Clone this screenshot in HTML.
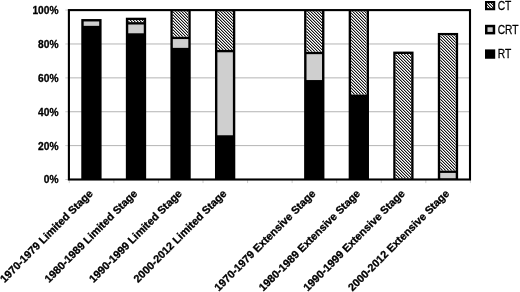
<!DOCTYPE html>
<html lang="en"><head><meta charset="utf-8"><title>Treatment by decade and stage</title>
<style>
html,body{margin:0;padding:0;background:#fff;}
body{width:520px;height:292px;overflow:hidden;}
svg{display:block;}
text{font-family:"Liberation Sans",sans-serif;fill:#000;}
.ax{font-weight:bold;font-size:10.85px;stroke:#000;stroke-width:0.3px;}
.ay{font-weight:bold;font-size:10.2px;stroke:#000;stroke-width:0.3px;}
.lg{font-size:12.2px;stroke:#000;stroke-width:0.25px;}
</style></head><body>
<svg width="520" height="292" viewBox="0 0 520 292">
<rect width="520" height="292" fill="#fff"/>
<line x1="68.9" x2="470.0" y1="145.62" y2="145.62" stroke="#b4b4b4" stroke-width="1"/>
<line x1="68.9" x2="470.0" y1="111.74" y2="111.74" stroke="#b4b4b4" stroke-width="1"/>
<line x1="68.9" x2="470.0" y1="77.86" y2="77.86" stroke="#b4b4b4" stroke-width="1"/>
<line x1="68.9" x2="470.0" y1="43.98" y2="43.98" stroke="#b4b4b4" stroke-width="1"/>
<line x1="65.30" x2="68.9" y1="179.50" y2="179.50" stroke="#c8c8c8" stroke-width="0.9"/>
<line x1="65.30" x2="68.9" y1="145.62" y2="145.62" stroke="#c8c8c8" stroke-width="0.9"/>
<line x1="65.30" x2="68.9" y1="111.74" y2="111.74" stroke="#c8c8c8" stroke-width="0.9"/>
<line x1="65.30" x2="68.9" y1="77.86" y2="77.86" stroke="#c8c8c8" stroke-width="0.9"/>
<line x1="65.30" x2="68.9" y1="43.98" y2="43.98" stroke="#c8c8c8" stroke-width="0.9"/>
<line x1="65.30" x2="68.9" y1="10.10" y2="10.10" stroke="#c8c8c8" stroke-width="0.9"/>
<line x1="69.30" x2="69.30" y1="179.5" y2="183.10" stroke="#c8c8c8" stroke-width="0.9"/>
<line x1="113.87" x2="113.87" y1="179.5" y2="183.10" stroke="#c8c8c8" stroke-width="0.9"/>
<line x1="158.43" x2="158.43" y1="179.5" y2="183.10" stroke="#c8c8c8" stroke-width="0.9"/>
<line x1="203.00" x2="203.00" y1="179.5" y2="183.10" stroke="#c8c8c8" stroke-width="0.9"/>
<line x1="247.57" x2="247.57" y1="179.5" y2="183.10" stroke="#c8c8c8" stroke-width="0.9"/>
<line x1="292.13" x2="292.13" y1="179.5" y2="183.10" stroke="#c8c8c8" stroke-width="0.9"/>
<line x1="336.70" x2="336.70" y1="179.5" y2="183.10" stroke="#c8c8c8" stroke-width="0.9"/>
<line x1="381.27" x2="381.27" y1="179.5" y2="183.10" stroke="#c8c8c8" stroke-width="0.9"/>
<line x1="425.83" x2="425.83" y1="179.5" y2="183.10" stroke="#c8c8c8" stroke-width="0.9"/>
<line x1="470.40" x2="470.40" y1="179.5" y2="183.10" stroke="#c8c8c8" stroke-width="0.9"/>
<defs><clipPath id="c1"><rect x="128.25" y="20.11" width="15.50" height="2.00"/></clipPath><clipPath id="c2"><rect x="172.82" y="11.30" width="15.50" height="25.38"/></clipPath><clipPath id="c3"><rect x="217.38" y="11.30" width="15.50" height="38.59"/></clipPath><clipPath id="c4"><rect x="306.52" y="11.30" width="15.50" height="40.46"/></clipPath><clipPath id="c5"><rect x="351.08" y="11.30" width="15.50" height="83.15"/></clipPath><clipPath id="c6"><rect x="395.65" y="53.99" width="15.50" height="124.51"/></clipPath><clipPath id="c7"><rect x="440.22" y="35.35" width="15.50" height="135.15"/></clipPath><clipPath id="cl"><rect x="486.5" y="2.5" width="7.2" height="6.25"/></clipPath></defs>
<rect x="81.28" y="19.06" width="20.30" height="160.44" fill="#000"/>
<rect x="83.68" y="21.46" width="15.50" height="4.38" fill="#cfcfcf"/>
<rect x="125.85" y="17.71" width="20.30" height="161.79" fill="#000"/>
<rect x="128.25" y="24.51" width="15.50" height="8.78" fill="#cfcfcf"/>
<rect x="128.25" y="20.11" width="15.50" height="2.00" fill="#fff"/>
<g clip-path="url(#c1)" fill="none" stroke-width="1" shape-rendering="crispEdges"><path d="M123.5 19.5L128.5 24.5M126.5 19.5L131.5 24.5M129.5 19.5L134.5 24.5M132.5 19.5L137.5 24.5M135.5 19.5L140.5 24.5M138.5 19.5L143.5 24.5M141.5 19.5L146.5 24.5M144.5 19.5L149.5 24.5" stroke="#161616"/><path d="M121.5 19.5L126.5 24.5M124.5 19.5L129.5 24.5M127.5 19.5L132.5 24.5M130.5 19.5L135.5 24.5M133.5 19.5L138.5 24.5M136.5 19.5L141.5 24.5M139.5 19.5L144.5 24.5M142.5 19.5L147.5 24.5M145.5 19.5L150.5 24.5" stroke="#a2a2a2"/></g>
<rect x="170.42" y="10.10" width="20.30" height="169.40" fill="#000"/>
<rect x="172.82" y="39.08" width="15.50" height="8.78" fill="#cfcfcf"/>
<rect x="172.82" y="11.30" width="15.50" height="25.38" fill="#fff"/>
<g clip-path="url(#c2)" fill="none" stroke-width="1" shape-rendering="crispEdges"><path d="M144.5 10.5L172.5 38.5M147.5 10.5L175.5 38.5M150.5 10.5L178.5 38.5M153.5 10.5L181.5 38.5M156.5 10.5L184.5 38.5M159.5 10.5L187.5 38.5M162.5 10.5L190.5 38.5M165.5 10.5L193.5 38.5M168.5 10.5L196.5 38.5M171.5 10.5L199.5 38.5M174.5 10.5L202.5 38.5M177.5 10.5L205.5 38.5M180.5 10.5L208.5 38.5M183.5 10.5L211.5 38.5M186.5 10.5L214.5 38.5M189.5 10.5L217.5 38.5" stroke="#161616"/><path d="M142.5 10.5L170.5 38.5M145.5 10.5L173.5 38.5M148.5 10.5L176.5 38.5M151.5 10.5L179.5 38.5M154.5 10.5L182.5 38.5M157.5 10.5L185.5 38.5M160.5 10.5L188.5 38.5M163.5 10.5L191.5 38.5M166.5 10.5L194.5 38.5M169.5 10.5L197.5 38.5M172.5 10.5L200.5 38.5M175.5 10.5L203.5 38.5M178.5 10.5L206.5 38.5M181.5 10.5L209.5 38.5M184.5 10.5L212.5 38.5M187.5 10.5L215.5 38.5M190.5 10.5L218.5 38.5" stroke="#a2a2a2"/></g>
<rect x="214.98" y="10.10" width="20.30" height="169.40" fill="#000"/>
<rect x="217.38" y="52.29" width="15.50" height="82.98" fill="#cfcfcf"/>
<rect x="217.38" y="11.30" width="15.50" height="38.59" fill="#fff"/>
<g clip-path="url(#c3)" fill="none" stroke-width="1" shape-rendering="crispEdges"><path d="M174.5 10.5L215.5 51.5M177.5 10.5L218.5 51.5M180.5 10.5L221.5 51.5M183.5 10.5L224.5 51.5M186.5 10.5L227.5 51.5M189.5 10.5L230.5 51.5M192.5 10.5L233.5 51.5M195.5 10.5L236.5 51.5M198.5 10.5L239.5 51.5M201.5 10.5L242.5 51.5M204.5 10.5L245.5 51.5M207.5 10.5L248.5 51.5M210.5 10.5L251.5 51.5M213.5 10.5L254.5 51.5M216.5 10.5L257.5 51.5M219.5 10.5L260.5 51.5M222.5 10.5L263.5 51.5M225.5 10.5L266.5 51.5M228.5 10.5L269.5 51.5M231.5 10.5L272.5 51.5M234.5 10.5L275.5 51.5" stroke="#161616"/><path d="M175.5 10.5L216.5 51.5M178.5 10.5L219.5 51.5M181.5 10.5L222.5 51.5M184.5 10.5L225.5 51.5M187.5 10.5L228.5 51.5M190.5 10.5L231.5 51.5M193.5 10.5L234.5 51.5M196.5 10.5L237.5 51.5M199.5 10.5L240.5 51.5M202.5 10.5L243.5 51.5M205.5 10.5L246.5 51.5M208.5 10.5L249.5 51.5M211.5 10.5L252.5 51.5M214.5 10.5L255.5 51.5M217.5 10.5L258.5 51.5M220.5 10.5L261.5 51.5M223.5 10.5L264.5 51.5M226.5 10.5L267.5 51.5M229.5 10.5L270.5 51.5M232.5 10.5L273.5 51.5M235.5 10.5L276.5 51.5" stroke="#a2a2a2"/></g>
<rect x="304.12" y="10.10" width="20.30" height="169.40" fill="#000"/>
<rect x="306.52" y="54.16" width="15.50" height="25.89" fill="#cfcfcf"/>
<rect x="306.52" y="11.30" width="15.50" height="40.46" fill="#fff"/>
<g clip-path="url(#c4)" fill="none" stroke-width="1" shape-rendering="crispEdges"><path d="M261.5 10.5L304.5 53.5M264.5 10.5L307.5 53.5M267.5 10.5L310.5 53.5M270.5 10.5L313.5 53.5M273.5 10.5L316.5 53.5M276.5 10.5L319.5 53.5M279.5 10.5L322.5 53.5M282.5 10.5L325.5 53.5M285.5 10.5L328.5 53.5M288.5 10.5L331.5 53.5M291.5 10.5L334.5 53.5M294.5 10.5L337.5 53.5M297.5 10.5L340.5 53.5M300.5 10.5L343.5 53.5M303.5 10.5L346.5 53.5M306.5 10.5L349.5 53.5M309.5 10.5L352.5 53.5M312.5 10.5L355.5 53.5M315.5 10.5L358.5 53.5M318.5 10.5L361.5 53.5M321.5 10.5L364.5 53.5M324.5 10.5L367.5 53.5" stroke="#161616"/><path d="M262.5 10.5L305.5 53.5M265.5 10.5L308.5 53.5M268.5 10.5L311.5 53.5M271.5 10.5L314.5 53.5M274.5 10.5L317.5 53.5M277.5 10.5L320.5 53.5M280.5 10.5L323.5 53.5M283.5 10.5L326.5 53.5M286.5 10.5L329.5 53.5M289.5 10.5L332.5 53.5M292.5 10.5L335.5 53.5M295.5 10.5L338.5 53.5M298.5 10.5L341.5 53.5M301.5 10.5L344.5 53.5M304.5 10.5L347.5 53.5M307.5 10.5L350.5 53.5M310.5 10.5L353.5 53.5M313.5 10.5L356.5 53.5M316.5 10.5L359.5 53.5M319.5 10.5L362.5 53.5M322.5 10.5L365.5 53.5M325.5 10.5L368.5 53.5" stroke="#a2a2a2"/></g>
<rect x="348.68" y="10.10" width="20.30" height="169.40" fill="#000"/>
<rect x="351.08" y="11.30" width="15.50" height="83.15" fill="#fff"/>
<g clip-path="url(#c5)" fill="none" stroke-width="1" shape-rendering="crispEdges"><path d="M264.5 10.5L350.5 96.5M267.5 10.5L353.5 96.5M270.5 10.5L356.5 96.5M273.5 10.5L359.5 96.5M276.5 10.5L362.5 96.5M279.5 10.5L365.5 96.5M282.5 10.5L368.5 96.5M285.5 10.5L371.5 96.5M288.5 10.5L374.5 96.5M291.5 10.5L377.5 96.5M294.5 10.5L380.5 96.5M297.5 10.5L383.5 96.5M300.5 10.5L386.5 96.5M303.5 10.5L389.5 96.5M306.5 10.5L392.5 96.5M309.5 10.5L395.5 96.5M312.5 10.5L398.5 96.5M315.5 10.5L401.5 96.5M318.5 10.5L404.5 96.5M321.5 10.5L407.5 96.5M324.5 10.5L410.5 96.5M327.5 10.5L413.5 96.5M330.5 10.5L416.5 96.5M333.5 10.5L419.5 96.5M336.5 10.5L422.5 96.5M339.5 10.5L425.5 96.5M342.5 10.5L428.5 96.5M345.5 10.5L431.5 96.5M348.5 10.5L434.5 96.5M351.5 10.5L437.5 96.5M354.5 10.5L440.5 96.5M357.5 10.5L443.5 96.5M360.5 10.5L446.5 96.5M363.5 10.5L449.5 96.5M366.5 10.5L452.5 96.5M369.5 10.5L455.5 96.5" stroke="#161616"/><path d="M262.5 10.5L348.5 96.5M265.5 10.5L351.5 96.5M268.5 10.5L354.5 96.5M271.5 10.5L357.5 96.5M274.5 10.5L360.5 96.5M277.5 10.5L363.5 96.5M280.5 10.5L366.5 96.5M283.5 10.5L369.5 96.5M286.5 10.5L372.5 96.5M289.5 10.5L375.5 96.5M292.5 10.5L378.5 96.5M295.5 10.5L381.5 96.5M298.5 10.5L384.5 96.5M301.5 10.5L387.5 96.5M304.5 10.5L390.5 96.5M307.5 10.5L393.5 96.5M310.5 10.5L396.5 96.5M313.5 10.5L399.5 96.5M316.5 10.5L402.5 96.5M319.5 10.5L405.5 96.5M322.5 10.5L408.5 96.5M325.5 10.5L411.5 96.5M328.5 10.5L414.5 96.5M331.5 10.5L417.5 96.5M334.5 10.5L420.5 96.5M337.5 10.5L423.5 96.5M340.5 10.5L426.5 96.5M343.5 10.5L429.5 96.5M346.5 10.5L432.5 96.5M349.5 10.5L435.5 96.5M352.5 10.5L438.5 96.5M355.5 10.5L441.5 96.5M358.5 10.5L444.5 96.5M361.5 10.5L447.5 96.5M364.5 10.5L450.5 96.5M367.5 10.5L453.5 96.5" stroke="#a2a2a2"/></g>
<rect x="393.25" y="51.59" width="20.30" height="127.91" fill="#000"/>
<rect x="395.65" y="53.99" width="15.50" height="124.51" fill="#fff"/>
<g clip-path="url(#c6)" fill="none" stroke-width="1" shape-rendering="crispEdges"><path d="M267.5 52.5L395.5 180.5M270.5 52.5L398.5 180.5M273.5 52.5L401.5 180.5M276.5 52.5L404.5 180.5M279.5 52.5L407.5 180.5M282.5 52.5L410.5 180.5M285.5 52.5L413.5 180.5M288.5 52.5L416.5 180.5M291.5 52.5L419.5 180.5M294.5 52.5L422.5 180.5M297.5 52.5L425.5 180.5M300.5 52.5L428.5 180.5M303.5 52.5L431.5 180.5M306.5 52.5L434.5 180.5M309.5 52.5L437.5 180.5M312.5 52.5L440.5 180.5M315.5 52.5L443.5 180.5M318.5 52.5L446.5 180.5M321.5 52.5L449.5 180.5M324.5 52.5L452.5 180.5M327.5 52.5L455.5 180.5M330.5 52.5L458.5 180.5M333.5 52.5L461.5 180.5M336.5 52.5L464.5 180.5M339.5 52.5L467.5 180.5M342.5 52.5L470.5 180.5M345.5 52.5L473.5 180.5M348.5 52.5L476.5 180.5M351.5 52.5L479.5 180.5M354.5 52.5L482.5 180.5M357.5 52.5L485.5 180.5M360.5 52.5L488.5 180.5M363.5 52.5L491.5 180.5M366.5 52.5L494.5 180.5M369.5 52.5L497.5 180.5M372.5 52.5L500.5 180.5M375.5 52.5L503.5 180.5M378.5 52.5L506.5 180.5M381.5 52.5L509.5 180.5M384.5 52.5L512.5 180.5M387.5 52.5L515.5 180.5M390.5 52.5L518.5 180.5M393.5 52.5L521.5 180.5M396.5 52.5L524.5 180.5M399.5 52.5L527.5 180.5M402.5 52.5L530.5 180.5M405.5 52.5L533.5 180.5M408.5 52.5L536.5 180.5M411.5 52.5L539.5 180.5M414.5 52.5L542.5 180.5" stroke="#161616"/><path d="M265.5 52.5L393.5 180.5M268.5 52.5L396.5 180.5M271.5 52.5L399.5 180.5M274.5 52.5L402.5 180.5M277.5 52.5L405.5 180.5M280.5 52.5L408.5 180.5M283.5 52.5L411.5 180.5M286.5 52.5L414.5 180.5M289.5 52.5L417.5 180.5M292.5 52.5L420.5 180.5M295.5 52.5L423.5 180.5M298.5 52.5L426.5 180.5M301.5 52.5L429.5 180.5M304.5 52.5L432.5 180.5M307.5 52.5L435.5 180.5M310.5 52.5L438.5 180.5M313.5 52.5L441.5 180.5M316.5 52.5L444.5 180.5M319.5 52.5L447.5 180.5M322.5 52.5L450.5 180.5M325.5 52.5L453.5 180.5M328.5 52.5L456.5 180.5M331.5 52.5L459.5 180.5M334.5 52.5L462.5 180.5M337.5 52.5L465.5 180.5M340.5 52.5L468.5 180.5M343.5 52.5L471.5 180.5M346.5 52.5L474.5 180.5M349.5 52.5L477.5 180.5M352.5 52.5L480.5 180.5M355.5 52.5L483.5 180.5M358.5 52.5L486.5 180.5M361.5 52.5L489.5 180.5M364.5 52.5L492.5 180.5M367.5 52.5L495.5 180.5M370.5 52.5L498.5 180.5M373.5 52.5L501.5 180.5M376.5 52.5L504.5 180.5M379.5 52.5L507.5 180.5M382.5 52.5L510.5 180.5M385.5 52.5L513.5 180.5M388.5 52.5L516.5 180.5M391.5 52.5L519.5 180.5M394.5 52.5L522.5 180.5M397.5 52.5L525.5 180.5M400.5 52.5L528.5 180.5M403.5 52.5L531.5 180.5M406.5 52.5L534.5 180.5M409.5 52.5L537.5 180.5M412.5 52.5L540.5 180.5" stroke="#a2a2a2"/></g>
<rect x="437.82" y="32.95" width="20.30" height="146.55" fill="#000"/>
<rect x="440.22" y="172.91" width="15.50" height="5.59" fill="#cfcfcf"/>
<rect x="440.22" y="35.35" width="15.50" height="135.15" fill="#fff"/>
<g clip-path="url(#c7)" fill="none" stroke-width="1" shape-rendering="crispEdges"><path d="M300.5 34.5L438.5 172.5M303.5 34.5L441.5 172.5M306.5 34.5L444.5 172.5M309.5 34.5L447.5 172.5M312.5 34.5L450.5 172.5M315.5 34.5L453.5 172.5M318.5 34.5L456.5 172.5M321.5 34.5L459.5 172.5M324.5 34.5L462.5 172.5M327.5 34.5L465.5 172.5M330.5 34.5L468.5 172.5M333.5 34.5L471.5 172.5M336.5 34.5L474.5 172.5M339.5 34.5L477.5 172.5M342.5 34.5L480.5 172.5M345.5 34.5L483.5 172.5M348.5 34.5L486.5 172.5M351.5 34.5L489.5 172.5M354.5 34.5L492.5 172.5M357.5 34.5L495.5 172.5M360.5 34.5L498.5 172.5M363.5 34.5L501.5 172.5M366.5 34.5L504.5 172.5M369.5 34.5L507.5 172.5M372.5 34.5L510.5 172.5M375.5 34.5L513.5 172.5M378.5 34.5L516.5 172.5M381.5 34.5L519.5 172.5M384.5 34.5L522.5 172.5M387.5 34.5L525.5 172.5M390.5 34.5L528.5 172.5M393.5 34.5L531.5 172.5M396.5 34.5L534.5 172.5M399.5 34.5L537.5 172.5M402.5 34.5L540.5 172.5M405.5 34.5L543.5 172.5M408.5 34.5L546.5 172.5M411.5 34.5L549.5 172.5M414.5 34.5L552.5 172.5M417.5 34.5L555.5 172.5M420.5 34.5L558.5 172.5M423.5 34.5L561.5 172.5M426.5 34.5L564.5 172.5M429.5 34.5L567.5 172.5M432.5 34.5L570.5 172.5M435.5 34.5L573.5 172.5M438.5 34.5L576.5 172.5M441.5 34.5L579.5 172.5M444.5 34.5L582.5 172.5M447.5 34.5L585.5 172.5M450.5 34.5L588.5 172.5M453.5 34.5L591.5 172.5M456.5 34.5L594.5 172.5" stroke="#161616"/><path d="M301.5 34.5L439.5 172.5M304.5 34.5L442.5 172.5M307.5 34.5L445.5 172.5M310.5 34.5L448.5 172.5M313.5 34.5L451.5 172.5M316.5 34.5L454.5 172.5M319.5 34.5L457.5 172.5M322.5 34.5L460.5 172.5M325.5 34.5L463.5 172.5M328.5 34.5L466.5 172.5M331.5 34.5L469.5 172.5M334.5 34.5L472.5 172.5M337.5 34.5L475.5 172.5M340.5 34.5L478.5 172.5M343.5 34.5L481.5 172.5M346.5 34.5L484.5 172.5M349.5 34.5L487.5 172.5M352.5 34.5L490.5 172.5M355.5 34.5L493.5 172.5M358.5 34.5L496.5 172.5M361.5 34.5L499.5 172.5M364.5 34.5L502.5 172.5M367.5 34.5L505.5 172.5M370.5 34.5L508.5 172.5M373.5 34.5L511.5 172.5M376.5 34.5L514.5 172.5M379.5 34.5L517.5 172.5M382.5 34.5L520.5 172.5M385.5 34.5L523.5 172.5M388.5 34.5L526.5 172.5M391.5 34.5L529.5 172.5M394.5 34.5L532.5 172.5M397.5 34.5L535.5 172.5M400.5 34.5L538.5 172.5M403.5 34.5L541.5 172.5M406.5 34.5L544.5 172.5M409.5 34.5L547.5 172.5M412.5 34.5L550.5 172.5M415.5 34.5L553.5 172.5M418.5 34.5L556.5 172.5M421.5 34.5L559.5 172.5M424.5 34.5L562.5 172.5M427.5 34.5L565.5 172.5M430.5 34.5L568.5 172.5M433.5 34.5L571.5 172.5M436.5 34.5L574.5 172.5M439.5 34.5L577.5 172.5M442.5 34.5L580.5 172.5M445.5 34.5L583.5 172.5M448.5 34.5L586.5 172.5M451.5 34.5L589.5 172.5M454.5 34.5L592.5 172.5M457.5 34.5L595.5 172.5" stroke="#a2a2a2"/></g>
<rect x="68.9" y="10.1" width="401.10" height="169.40" fill="none" stroke="#000" stroke-width="2.1"/>
<text class="ay" x="58.5" y="183.40" text-anchor="end">0%</text>
<text class="ay" x="58.5" y="149.52" text-anchor="end">20%</text>
<text class="ay" x="58.5" y="115.64" text-anchor="end">40%</text>
<text class="ay" x="58.5" y="81.76" text-anchor="end">60%</text>
<text class="ay" x="58.5" y="47.88" text-anchor="end">80%</text>
<text class="ay" x="58.5" y="14.00" text-anchor="end">100%</text>
<text class="ax" transform="translate(90.93 191.60) rotate(-45)" text-anchor="end" x="0" y="3.6">1970-1979 Limited Stage</text>
<text class="ax" transform="translate(135.50 191.60) rotate(-45)" text-anchor="end" x="0" y="3.6">1980-1989 Limited Stage</text>
<text class="ax" transform="translate(180.07 191.60) rotate(-45)" text-anchor="end" x="0" y="3.6">1990-1999 Limited Stage</text>
<text class="ax" transform="translate(224.63 191.60) rotate(-45)" text-anchor="end" x="0" y="3.6">2000-2012 Limited Stage</text>
<text class="ax" transform="translate(313.77 191.60) rotate(-45)" text-anchor="end" x="0" y="3.6">1970-1979 Extensive Stage</text>
<text class="ax" transform="translate(358.33 191.60) rotate(-45)" text-anchor="end" x="0" y="3.6">1980-1989 Extensive Stage</text>
<text class="ax" transform="translate(402.90 191.60) rotate(-45)" text-anchor="end" x="0" y="3.6">1990-1999 Extensive Stage</text>
<text class="ax" transform="translate(447.47 191.60) rotate(-45)" text-anchor="end" x="0" y="3.6">2000-2012 Extensive Stage</text>
<rect x="485.0" y="1.0" width="10.20" height="9.25" fill="#fff"/><g clip-path="url(#cl)" fill="none" stroke-width="1" shape-rendering="crispEdges"><path d="M473.5 0.5L485.5 12.5M476.5 0.5L488.5 12.5M479.5 0.5L491.5 12.5M482.5 0.5L494.5 12.5M485.5 0.5L497.5 12.5M488.5 0.5L500.5 12.5M491.5 0.5L503.5 12.5M494.5 0.5L506.5 12.5M497.5 0.5L509.5 12.5" stroke="#161616"/><path d="M474.5 0.5L486.5 12.5M477.5 0.5L489.5 12.5M480.5 0.5L492.5 12.5M483.5 0.5L495.5 12.5M486.5 0.5L498.5 12.5M489.5 0.5L501.5 12.5M492.5 0.5L504.5 12.5M495.5 0.5L507.5 12.5" stroke="#a2a2a2"/></g>
<rect x="486.05" y="2.05" width="8.10" height="7.15" fill="none" stroke="#000" stroke-width="2.1"/>
<text class="lg" transform="translate(497.7 10.00) scale(0.84 1)" x="0" y="0">CT</text>
<rect x="486.25" y="26.05" width="7.70" height="7.10" fill="#cfcfcf" stroke="#000" stroke-width="2.5"/>
<text class="lg" transform="translate(497.7 34.00) scale(0.84 1)" x="0" y="0">CRT</text>
<rect x="485.0" y="49.4" width="10.20" height="9.35" fill="#000"/>
<text class="lg" transform="translate(497.7 58.10) scale(0.84 1)" x="0" y="0">RT</text>
</svg>
</body></html>
